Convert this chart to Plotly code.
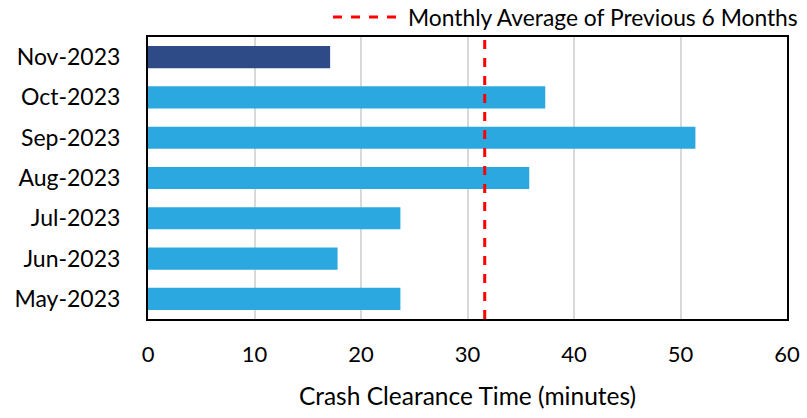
import plotly.graph_objects as go

months = ["May-2023", "Jun-2023", "Jul-2023", "Aug-2023", "Sep-2023", "Oct-2023", "Nov-2023"]
clearance = [23.7, 17.8, 23.7, 35.8, 51.4, 37.3, 17.1]
bar_colors = ["#2CA8E0", "#2CA8E0", "#2CA8E0", "#2CA8E0", "#2CA8E0", "#2CA8E0", "#2E4A87"]
avg_prev6 = sum(clearance[:6]) / 6
x_ticks = [0, 10, 20, 30, 40, 50, 60]
legend_label = "Monthly Average of Previous 6 Months"
x_title = "Crash Clearance Time (minutes)"

FONT = "Lato, 'Open Sans', sans-serif"

fig = go.Figure()
fig.add_trace(go.Bar(
    y=months, x=clearance, orientation="h",
    marker=dict(color=bar_colors, line=dict(width=0)),
    width=0.55, showlegend=False, hoverinfo="x+y",
))

# Average line
fig.add_shape(type="line", xref="x", yref="paper", x0=avg_prev6, x1=avg_prev6, y0=0, y1=1,
              line=dict(color="#FF0000", width=3, dash="dash"), layer="above")

# Manual legend
PW, PH = 639, 282
ly = 1 + 20 / PH
fig.add_shape(type="line", xref="paper", yref="paper", x0=(333 - 148) / PW, x1=(400 - 148) / PW,
              y0=ly, y1=ly, line=dict(color="#FF0000", width=3, dash="dash"))
fig.add_annotation(xref="paper", yref="paper", x=(406 - 148) / PW, y=ly,
                   text=legend_label, showarrow=False, xanchor="left", yanchor="middle",
                   font=dict(family=FONT, size=22.8, color="#000000"))

fig.update_layout(
    width=807, height=418,
    margin=dict(l=148, r=20, t=37, b=99, autoexpand=False),
    paper_bgcolor="white", plot_bgcolor="white",
    font=dict(family=FONT, size=22, color="#000000"),
    bargap=0.45,
)
fig.update_xaxes(
    range=[0, 60], tickvals=x_ticks, showgrid=True, gridcolor="#D9D9D9", gridwidth=2,
    showline=True, linecolor="#000000", linewidth=2, mirror=True, zeroline=False,
    ticks="", ticklabelstandoff=15, automargin=False,
    title=dict(text=x_title, standoff=21, font=dict(family=FONT, size=24.5)),
)
fig.update_yaxes(
    categoryorder="array", categoryarray=months, showgrid=False,
    showline=True, linecolor="#000000", linewidth=2, mirror=True, zeroline=False,
    ticks="", ticklabelstandoff=21, tickfont=dict(size=23), automargin=False,
)

fig.write_html(
    "out.html",
    config={"displayModeBar": False},
    post_script="document.body.style.margin='0';document.body.style.overflow='hidden';",
)
